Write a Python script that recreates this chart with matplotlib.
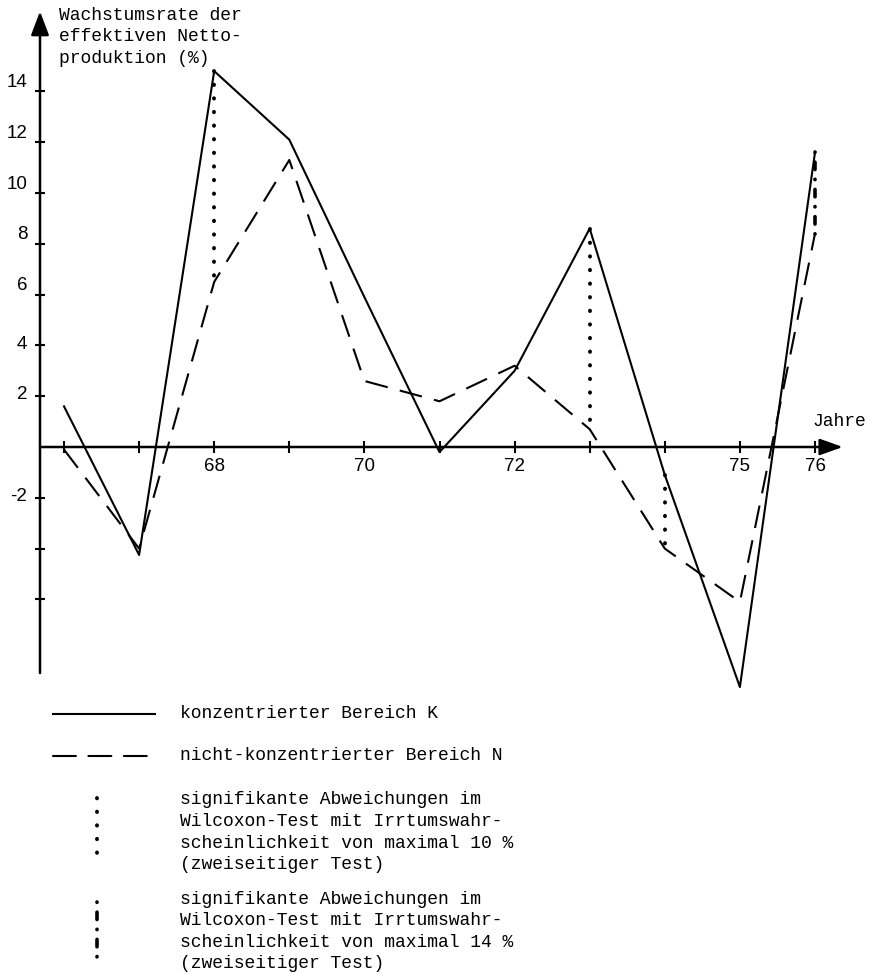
"""Wachstumsrate der effektiven Nettoproduktion: konzentrierter vs. nicht-konzentrierter Bereich."""

import matplotlib

matplotlib.use("Agg")
import matplotlib.pyplot as plt

# --- data -------------------------------------------------------------------
years = [66, 67, 68, 69, 70, 71, 72, 73, 74, 75, 76]
growth_k = [1.6, -4.25, 14.8, 12.1, 5.9, -0.2, 3.0, 8.6, -1.1, -9.45, 11.6]
growth_n = [-0.1, -4.0, 6.5, 11.3, 2.6, 1.8, 3.2, 0.7, -4.0, -6.1, 8.4]

sig10_years = [68, 73, 74]   # dotted markers (max. 10 %)
sig14_years = [76]           # dash-dot markers (max. 14 %)

y_tick_values = [14, 12, 10, 8, 6, 4, 2, -2, -4, -6]
y_tick_labels = ["14", "12", "10", "8", "6", "4", "2", "-2"]
x_tick_values = years
x_tick_labels = {68: "68", 70: "70", 72: "72", 75: "75", 76: "76"}

y_title_lines = ["Wachstumsrate der", "effektiven Netto-", "produktion (%)"]
legend_texts = [
    ["konzentrierter Bereich K"],
    ["nicht-konzentrierter Bereich N"],
    ["signifikante Abweichungen im", "Wilcoxon-Test mit Irrtumswahr-",
     "scheinlichkeit von maximal 10 %", "(zweiseitiger Test)"],
    ["signifikante Abweichungen im", "Wilcoxon-Test mit Irrtumswahr-",
     "scheinlichkeit von maximal 14 %", "(zweiseitiger Test)"],
]

# --- layout -----------------------------------------------------------------
W, H = 874, 973
X0_PX, X_SCALE = 64, 75.1     # pixel of year 66, pixels per year
Y0_PX, Y_SCALE = 447, 25.4    # pixel of 0 %, pixels per percent
LINE_STEP = 21.6              # text line pitch in pixels

MONO = "Liberation Mono"
SANS = "Liberation Sans"
TEXT_SIZE = 13
TICK_SIZE = 13.5


def fig_xy(px, py):
    return px / W, 1 - py / H


fig = plt.figure(figsize=(W / 100, H / 100), dpi=100)
ax = fig.add_axes([0, 0, 1, 1])
ax.set_xlim(66 - X0_PX / X_SCALE, 66 + (W - X0_PX) / X_SCALE)
ax.set_ylim(-(H - Y0_PX) / Y_SCALE, Y0_PX / Y_SCALE)
ax.axis("off")

axis_x = 66 - 24 / X_SCALE

# y axis with arrow
ax.annotate(
    "", xy=(axis_x, 17.15), xytext=(axis_x, -8.9),
    arrowprops=dict(arrowstyle="-|>,head_length=1.45,head_width=0.55",
                    color="black", lw=1.8, shrinkA=0, shrinkB=0),
)
# x axis with arrow
ax.annotate(
    "", xy=(76.37, 0), xytext=(axis_x, 0),
    arrowprops=dict(arrowstyle="-|>,head_length=1.4,head_width=0.5",
                    color="black", lw=1.8, shrinkA=0, shrinkB=0),
)

# ticks
ax.plot([axis_x] * len(y_tick_values), y_tick_values, ls="none",
        marker="_", ms=7, mew=1.5, color="black")
ax.plot(x_tick_values, [0] * len(x_tick_values), ls="none",
        marker="|", ms=9, mew=1.5, color="black")

for value, label in zip(y_tick_values, y_tick_labels):
    offset = 0.35 if value > 4 else 0.05
    ax.text(axis_x - 0.17, value + offset, label, ha="right", va="center",
            fontsize=TICK_SIZE, family=SANS)
for value, label in x_tick_labels.items():
    ax.text(value, -0.75, label, ha="center", va="center",
            fontsize=TICK_SIZE, family=SANS)

ax.text(75.97, 1.0, "Jahre", ha="left", va="center",
        fontsize=TEXT_SIZE, family=MONO)
for k, line in enumerate(y_title_lines):
    tx, ty = fig_xy(59, 15 + k * LINE_STEP)
    fig.text(tx, ty, line, ha="left", va="center",
             fontsize=TEXT_SIZE, family=MONO)

# series
line_kw = dict(color="black", lw=1.5)
dashed = (0, (11, 6))
ax.plot(years, growth_k, ls="-", **line_kw)
ax.plot(years, growth_n, ls=dashed, **line_kw)

dotted = (0, (0.1, 3.4))
dash_dot = (0, (0.1, 2.7, 2.05, 2.7))
for year in sig10_years:
    i = years.index(year)
    ax.plot([year, year], [growth_k[i], growth_n[i]], color="black",
            lw=2.8, ls=dotted, dash_capstyle="round")
for year in sig14_years:
    i = years.index(year)
    ax.plot([year, year], [growth_k[i], growth_n[i]], color="black",
            lw=2.6, ls=dash_dot, dash_capstyle="round")

# legend (drawn in figure pixel space)
samples = [
    dict(xs=(53, 155), ys=(714, 714), ls="-", lw=1.5),
    dict(xs=(53, 155), ys=(756, 756), ls=dashed, lw=1.5),
    dict(xs=(97, 97), ys=(798, 855), ls=dotted, lw=2.8),
    dict(xs=(97, 97), ys=(902, 962), ls=dash_dot, lw=2.6),
]
first_line_y = [714, 756, 800, 899]
for sample, lines, y_first in zip(samples, legend_texts, first_line_y):
    x_a, y_a = fig_xy(sample["xs"][0], sample["ys"][0])
    x_b, y_b = fig_xy(sample["xs"][1], sample["ys"][1])
    fig.add_artist(plt.Line2D([x_a, x_b], [y_a, y_b], transform=fig.transFigure,
                              color="black", lw=sample["lw"], ls=sample["ls"],
                              dash_capstyle="round"))
    for k, line in enumerate(lines):
        lx, ly = fig_xy(180, y_first + k * LINE_STEP)
        fig.text(lx, ly, line, ha="left", va="center",
                 fontsize=TEXT_SIZE, family=MONO)

fig.savefig("out.png", dpi=100, facecolor="white")
